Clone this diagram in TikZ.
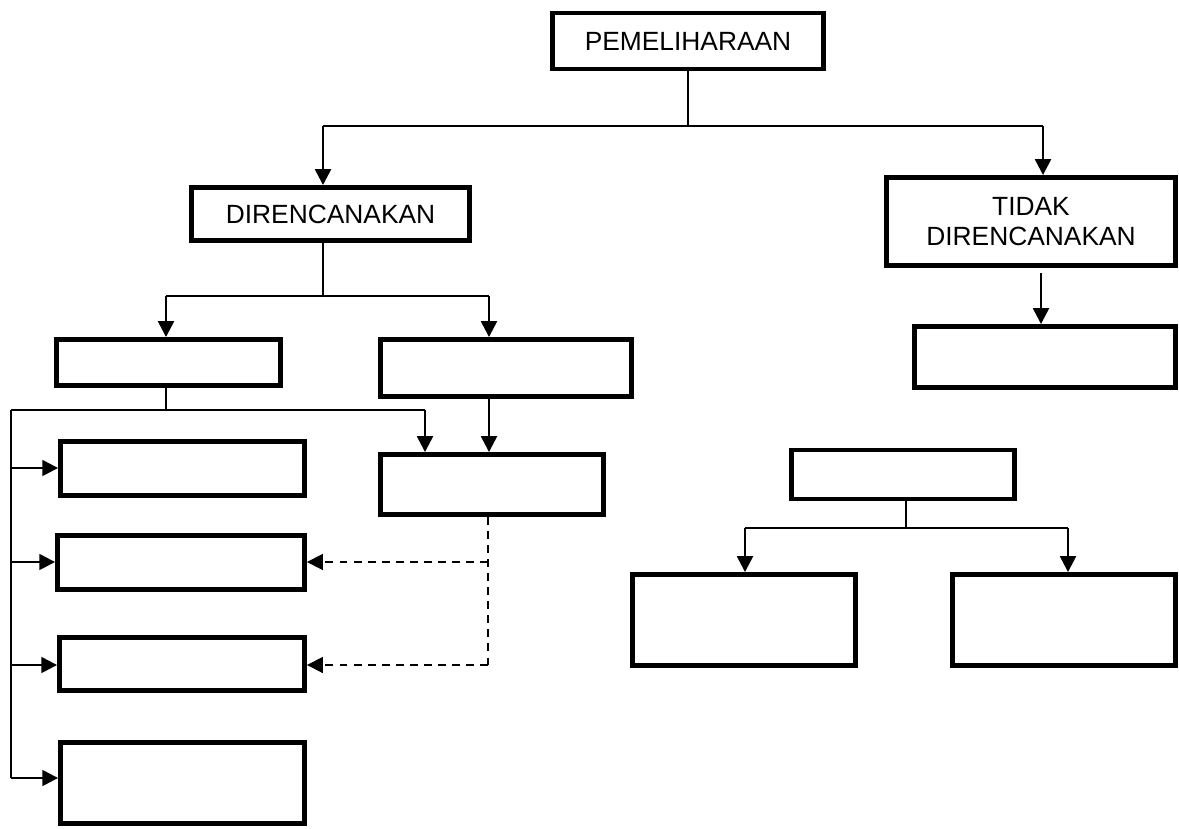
\documentclass[tikz,border=0pt]{standalone}
\usepackage{fontspec}
\setmainfont{Liberation Sans}
\usetikzlibrary{arrows.meta,calc}
\tikzset{
	box/.style={
			draw, line width=2.8pt, inner sep=0pt,
			font=\fontsize{15}{17}\selectfont, align=center
		},
	link/.style={line width=1pt},
	arr/.style={line width=1.4pt, -{Triangle[length=9pt,width=9pt]}},
	dashlink/.style={line width=1pt, dash pattern=on 4.5pt off 3.5pt}
}

\begin{document}
\begin{tikzpicture}[x=0.02cm,y=-0.02cm]
        \useasboundingbox (0,0) rectangle (1179,828);
        \node[box, minimum width=5.42cm, minimum height=1.12cm] (pem) at (688,41) {PEMELIHARAAN};
        \node[box, minimum width=5.56cm, minimum height=1.06cm] (dir) at (330.5,214) {DIRENCANAKAN};
        \node[box, minimum width=5.78cm, minimum height=1.76cm] (tdk) at (1031,221.5) {TIDAK\\DIRENCANAKAN};
        \node[box, minimum width=4.48cm, minimum height=0.92cm] (a) at (168.5,362.5) {};
        \node[box, minimum width=5.02cm, minimum height=1.14cm] (b) at (506,368) {};
        \node[box, minimum width=5.22cm, minimum height=1.22cm] (t) at (1045,357) {};
        \node[box, minimum width=4.46cm, minimum height=1.20cm] (c) at (492,484.5) {};
        \node[box, minimum width=4.88cm, minimum height=1.08cm] (l1) at (182.5,468.5) {};
        \node[box, minimum width=4.94cm, minimum height=1.08cm] (l2) at (181,562.5) {};
        \node[box, minimum width=4.90cm, minimum height=1.06cm] (l3) at (182,664) {};
        \node[box, minimum width=4.88cm, minimum height=1.62cm] (l4) at (182.5,783) {};
        \node[box, minimum width=4.46cm, minimum height=0.98cm] (m) at (903,474.5) {};
        \node[box, minimum width=4.46cm, minimum height=1.82cm] (r1) at (744,620) {};
        \node[box, minimum width=4.46cm, minimum height=1.82cm] (r2) at (1064,620) {};

        % top split
        \coordinate (j0) at (688,126);
        \coordinate (jl) at (323,126);
        \coordinate (jr) at (1043,126);
        \draw[link] (pem.south) -- (j0) (jl) -- (jr);
        \draw[arr] (jl) -- (jl |- dir.north);
        \draw[arr] (jr) -- (jr |- tdk.north);
        \draw[arr, shorten <=3pt] (tdk.south -| t.north) ++(-4,0) coordinate (tk) (tk) -- (tk |- t.north);

        % direncanakan
        \coordinate (jd) at (323,296);
        \coordinate (ja) at (166,296);
        \coordinate (jb) at (489,296);
        \draw[link] (dir.south -| jd) -- (jd) (ja) -- (jb);
        \draw[arr] (ja) -- (ja |- a.north);
        \draw[arr] (jb) -- (jb |- b.north);
        \draw[arr] (b.south -| jb) -- (jb |- c.north);

        % left spine
        \coordinate (s0) at (11,410);
        \coordinate (sa) at (166,410);
        \coordinate (sc) at (425,410);
        \coordinate (s1) at (11,468);
        \coordinate (s2) at (11,562);
        \coordinate (s3) at (11,665);
        \coordinate (s4) at (11,778);
        \draw[link] (a.south -| sa) -- (sa) (s0) -- (sc) (s0) -- (s4);
        \draw[arr] (sc) -- (sc |- c.north);
        \draw[arr] (s1) -- (s1 -| l1.west);
        \draw[arr] (s2) -- (s2 -| l2.west);
        \draw[arr] (s3) -- (s3 -| l3.west);
        \draw[arr] (s4) -- (s4 -| l4.west);

        % dashed returns
        \coordinate (d1) at (488,562);
        \coordinate (d2) at (488,665);
        \draw[dashlink] (c.south -| d2) -- (d2);
        \draw[dashlink, arr, line width=1pt] (d1) -- (d1 -| l2.east);
        \draw[dashlink, arr, line width=1pt] (d2) -- (d2 -| l3.east);

        % right group
        \coordinate (jm) at (906,528);
        \coordinate (j1) at (745,528);
        \coordinate (j2) at (1068,528);
        \draw[link] (m.south -| jm) -- (jm) (j1) -- (j2);
        \draw[arr] (j1) -- (j1 |- r1.north);
        \draw[arr] (j2) -- (j2 |- r2.north);
    \end{tikzpicture}
\end{document}
